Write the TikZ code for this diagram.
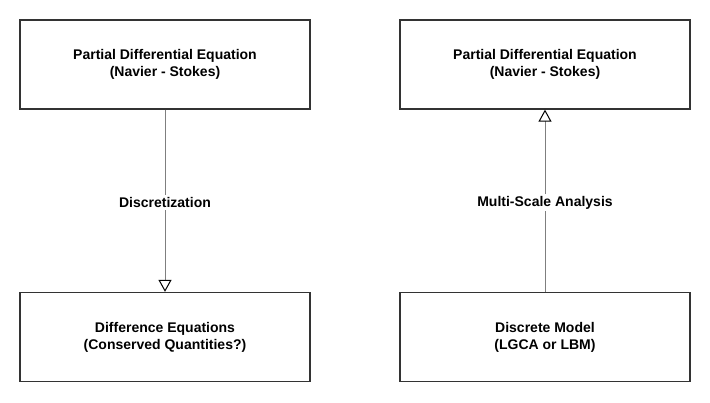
\documentclass[tikz,border=0pt]{standalone}
\usepackage{fontspec}
\setmainfont{Liberation Sans}
\usetikzlibrary{arrows.meta}

\definecolor{boxline}{HTML}{333333}
\definecolor{flowline}{HTML}{7F7F7F}

\begin{document}
\begin{tikzpicture}[
	x=1pt, y=-1pt,
	font=\fontsize{14}{17}\selectfont\bfseries,
	model/.style = {draw=boxline, line width=1.3pt, fill=white,
		minimum width=290pt, minimum height=89pt,
		align=center, inner sep=0pt},
	relation/.style = {draw=flowline, line width=1pt,
		-{Triangle[open, length=12pt, width=13pt, fill=white, color=black]}},
	tag/.style = {fill=white, inner sep=2pt}
	]
	\useasboundingbox (0,0) rectangle (710,402);
	% left column
	\node [model] (pde) at (165,64.5) {Partial Differential Equation\\(Navier - Stokes)};
	\node [model] (diff) at (165,337) {Difference Equations\\(Conserved Quantities?)};
	% right column
	\node [model] (pde2) at (545,64.5) {Partial Differential Equation\\(Navier - Stokes)};
	\node [model] (disc) at (545,337) {Discrete Model\\(LGCA or LBM)};
	\draw [relation] (pde) -- node [tag, pos=0.51] {Discretization} (diff);
	\draw [relation] (disc) -- node [tag, pos=0.49] {Multi-Scale Analysis} (pde2);
\end{tikzpicture}
\end{document}
